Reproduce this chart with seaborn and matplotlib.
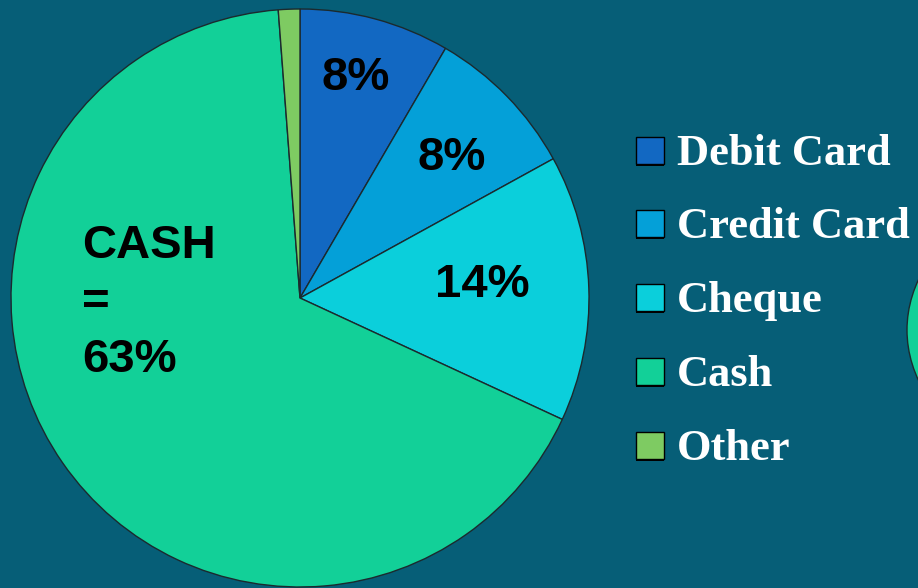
import matplotlib
matplotlib.use("Agg")
import matplotlib.pyplot as plt
import seaborn as sns
from matplotlib.patches import Rectangle, Circle

# ---------- data
categories = ["Debit Card", "Credit Card", "Cheque", "Cash", "Other"]
shares = [8.4, 8.6, 14.9, 66.9, 1.2]
slice_labels = ["8%", "8%", "14%", "CASH\n=\n63%", ""]
colors = ["#1268c2", "#04a0d8", "#0bcfdb", "#12d098", "#7ecb62"]

BG = "#065e77"
W, H = 918, 588

sns.set_theme(style="white")
plt.rcParams["font.family"] = ["Liberation Sans", "DejaVu Sans"]

fig = plt.figure(figsize=(W / 100, H / 100), dpi=100, facecolor=BG)

# pie centred at (300, 298) px with radius 289 px
cx, cy, r = 300, 298, 289
ax = fig.add_axes([(cx - r) / W, (H - cy - r) / H, 2 * r / W, 2 * r / H])
ax.set_facecolor(BG)
wedges, _ = ax.pie(
    shares,
    colors=sns.color_palette(colors),
    startangle=90,
    counterclock=False,
    radius=1,
    wedgeprops=dict(edgecolor="#1b2a2e", linewidth=1.0),
)
ax.set_xlim(-1, 1)
ax.set_ylim(-1, 1)
ax.set_aspect("equal")
ax.axis("off")

# percentage labels (pixel positions of text centres / anchors)
label_pos = [(356, 78), (452, 158), (482, 285)]
for (px, py), txt in zip(label_pos, slice_labels[:3]):
    fig.text(px / W, 1 - py / H, txt, ha="center", va="center",
             fontsize=34, fontweight="bold", color="black")
fig.text(82 / W, 1 - 303 / H, slice_labels[3], ha="left", va="center",
         fontsize=34, fontweight="bold", color="black", linespacing=1.38)

# legend drawn by hand to match the slide
leg_y = [151, 224, 298, 372, 446]
for y, c, name in zip(leg_y, colors, categories):
    fig.patches.append(Rectangle(((636) / W, 1 - (y + 15) / H), 28 / W, 28 / H,
                                 transform=fig.transFigure, facecolor="black",
                                 edgecolor="none"))
    fig.patches.append(Rectangle(((636) / W, 1 - (y + 13) / H), 28 / W, 27 / H,
                                 transform=fig.transFigure, facecolor=c,
                                 edgecolor="black", linewidth=1))
    fig.text(677 / W, 1 - (y + 14) / H, name, ha="left", va="baseline",
             fontsize=32, color="white", fontweight="bold",
             family=["Liberation Serif", "DejaVu Serif"])

# edge of the neighbouring pie peeking in on the right
fig.patches.append(Circle((1182 / W, 1 - 330 / H), 275 / W,
                          transform=fig.transFigure, facecolor=colors[3],
                          edgecolor="#1b2a2e", linewidth=1))

fig.savefig("out.png", dpi=100, facecolor=BG)
